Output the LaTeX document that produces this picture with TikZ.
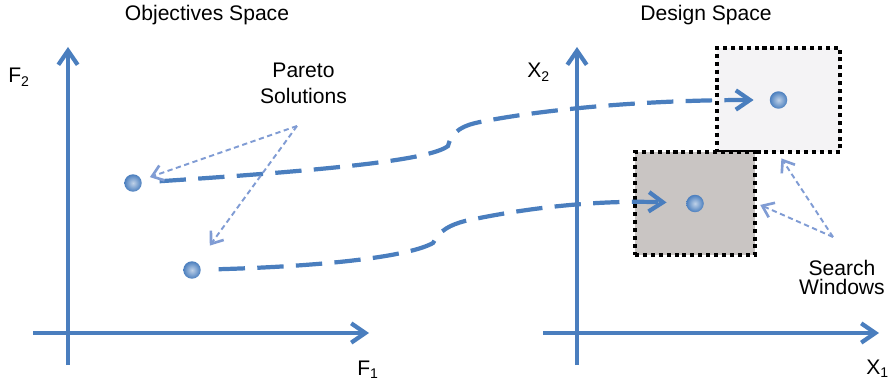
\documentclass[tikz,border=0pt]{standalone}
\usepackage{fontspec}
\setmainfont{Liberation Sans}
\usepackage{xcolor}
\usepackage{tikz}
\usetikzlibrary{arrows.meta}
\definecolor{axblue}{RGB}{74,126,190}
\definecolor{thinblue}{RGB}{128,156,212}
\definecolor{winlight}{RGB}{244,243,245}
\definecolor{windark}{RGB}{201,197,195}

\begin{document}
\begin{tikzpicture}[x=0.02cm,y=-0.02cm,font=\fontsize{12}{14}\selectfont]
\tikzstyle{ax}=[draw=axblue,line width=2.4pt,-{Straight Barb[length=8pt,width=11pt]}]
\tikzstyle{map}=[draw=axblue,line width=2.4pt,dash pattern=on 15pt off 7pt,-{Straight Barb[length=8pt,width=11pt]}]
\tikzstyle{hint}=[draw=thinblue,line width=1.1pt,dash pattern=on 3pt off 2pt,-{Straight Barb[length=6pt,width=9pt,line width=1.5pt]}]
\tikzstyle{pt}=[circle,inner sep=0pt,minimum size=0.35cm,inner color=axblue!35,outer color=axblue]
\tikzstyle{win}=[draw=black,line width=2.3pt,dash pattern=on 2.3pt off 2.2pt,inner sep=0pt]
\useasboundingbox (0,0) rectangle (890,385);
% search windows
\node[win,fill=winlight,minimum width=2.46cm,minimum height=2.08cm] (win1) at (778.5,100) {};
\node[win,fill=windark,minimum width=2.4cm,minimum height=2.06cm] (win2) at (695,203.5) {};
% axes
\coordinate (f1a) at (33,333);
\coordinate (f1b) at (369,333);
\coordinate (f2a) at (68,365);
\coordinate (f2b) at (68,47);
\coordinate (x1a) at (543,333);
\coordinate (x1b) at (879,333);
\coordinate (x2a) at (577,365);
\coordinate (x2b) at (577,47);
\draw[ax] (f1a) -- (f1b);
\draw[ax] (f2a) -- (f2b);
\draw[ax] (x1a) -- (x1b);
\draw[ax] (x2a) -- (x2b);
% solutions
\node[pt] (p1) at (133,183) {};
\node[pt] (p2) at (192,270) {};
\node[pt] (d1) at (win1.center) {};
\node[pt] (d2) at (win2.center) {};
\coordinate (u1) at (448,146);
\coordinate (u2) at (480,122);
\coordinate (l1) at (433,243);
\coordinate (l2) at (465,221);
\draw[map,shorten <=10pt,shorten >=9pt] (p1) .. controls (330,170) and (430,160) .. (u1) .. controls (452,130) and (465,125) .. (u2) .. controls (540,110) and (640,100) .. (d1);
\draw[map,shorten <=10pt,shorten >=11pt] (p2) .. controls (330,266) and (410,256) .. (l1) .. controls (440,230) and (450,225) .. (l2) .. controls (530,207) and (600,200) .. (d2);
% pointers
\coordinate (ps) at (297,126);
\coordinate (sw) at (833,237);
\draw[hint,shorten >=5pt] (ps) -- (p1);
\draw[hint,shorten >=12pt] (ps) -- (p2);
\draw[hint,shorten >=3pt] (sw) -- (win1.south);
\draw[hint,shorten >=2pt] (sw) -- (win2.east);
% labels
\node[anchor=base] (ttlO) at (207,21) {Objectives Space};
\node[anchor=base] (ttlD) at (706,21) {Design Space};
\node[anchor=base west,inner sep=0pt] (lf2) at (8,83) {F\textsubscript{2}};
\node[anchor=base west,inner sep=0pt] (lf1) at (357,375) {F\textsubscript{1}};
\node[anchor=base west,inner sep=0pt] (lx2) at (527,78) {X\textsubscript{2}};
\node[anchor=base west,inner sep=0pt] (lx1) at (866,374) {X\textsubscript{1}};
\node[anchor=north,inner sep=0pt,align=center,font=\fontsize{12}{14.8}\selectfont] (lps) at (303.5,63) {Pareto\\Solutions};
\node[anchor=north,inner sep=0pt,align=center,font=\fontsize{12}{10.6}\selectfont] (lsw) at (842,260) {Search\\Windows};
\end{tikzpicture}
\end{document}
